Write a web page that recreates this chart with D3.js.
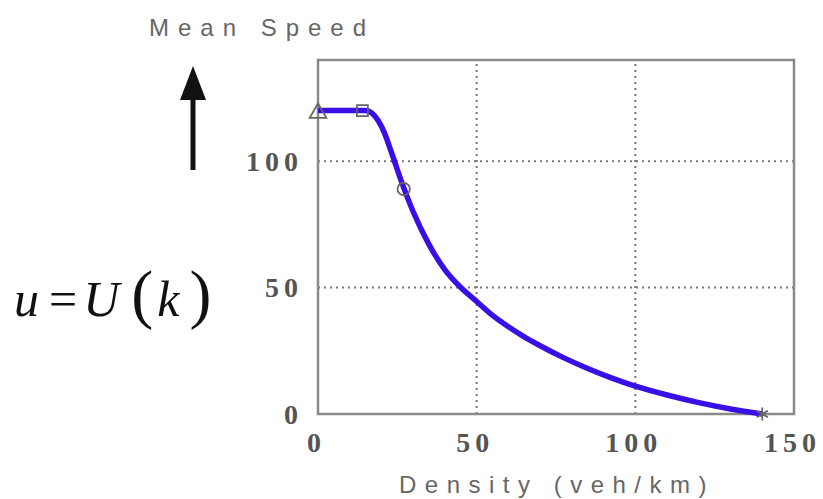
<!DOCTYPE html>
<html>
  <head>
    <script src="https://d3js.org/d3.v7.min.js" charset="utf-8"></script>
    <meta charset="UTF-8">
    <title>speed density</title>
    <style>
      body { margin: 0; background: #fff; }
    </style>
  </head>
  <body>
    <svg class="chart"></svg>
    <script type="text/javascript">

     var width = 823,
         height = 499;

     // speed-density curve
     var density = [0, 5, 10, 15, 17, 19, 21, 23, 26, 30, 35, 40, 45, 50, 55, 60, 65, 70, 77, 85, 92, 100, 110, 120, 130, 140];
     var speed   = [120, 120, 120, 120, 119, 116, 111, 104, 93, 80, 67, 57, 50, 44.5, 39, 34.5, 30.5, 27, 22.5, 18, 14.5, 11, 7.5, 4.5, 2, 0];

     var markerK = [0, 14, 27, 140];
     var markerU = [119, 120, 89, 0];
     var markerShape = ["triangle", "square", "circle", "star"];

     var xTicks = [0, 50, 100, 150];
     var yTicks = [0, 50, 100];

     var xScale = d3.scaleLinear().domain([0, 150]).range([318, 794]);
     var yScale = d3.scaleLinear().domain([0, 140]).range([414, 60]);

     var tickSpacing = 5;

     var chart = d3.select(".chart")
                   .attr("width", width)
                   .attr("height", height);

     // grid
     chart.append("g")
          .selectAll("line")
          .data([50, 100])
          .enter().append("line")
          .attr("x1", function(d) { return xScale(d); })
          .attr("x2", function(d) { return xScale(d); })
          .attr("y1", yScale(0))
          .attr("y2", yScale(140))
          .attr("stroke", "#777")
          .attr("stroke-width", 2)
          .attr("stroke-dasharray", "2,4");

     chart.append("g")
          .selectAll("line")
          .data([50, 100])
          .enter().append("line")
          .attr("y1", function(d) { return yScale(d); })
          .attr("y2", function(d) { return yScale(d); })
          .attr("x1", xScale(0))
          .attr("x2", xScale(150))
          .attr("stroke", "#777")
          .attr("stroke-width", 2)
          .attr("stroke-dasharray", "2,4");

     // frame
     chart.append("rect")
          .attr("x", xScale(0))
          .attr("y", yScale(140))
          .attr("width", xScale(150) - xScale(0))
          .attr("height", yScale(0) - yScale(140))
          .attr("fill", "none")
          .attr("stroke", "#8a8a8a")
          .attr("stroke-width", 2.5);

     // axes, tick labels only
     var xAxis = chart.append("g")
                      .attr("transform", "translate(0," + yScale(0) + ")")
                      .call(d3.axisBottom(xScale).tickValues(xTicks).tickSize(0).tickFormat(d3.format("d")));
     xAxis.select(".domain").remove();
     xAxis.selectAll("text")
          .attr("y", 38)
          .attr("dy", 0)
          .attr("dx", -2)
          .attr("font-family", "Liberation Serif, serif")
          .attr("font-weight", "bold")
          .attr("font-size", 28)
          .attr("letter-spacing", tickSpacing)
          .attr("fill", "#555");

     var yAxis = chart.append("g")
                      .attr("transform", "translate(" + xScale(0) + ",0)")
                      .call(d3.axisLeft(yScale).tickValues(yTicks).tickSize(0).tickFormat(d3.format("d")));
     yAxis.select(".domain").remove();
     yAxis.selectAll("text")
          .attr("x", -20 + tickSpacing)
          .attr("dy", "0.33em")
          .attr("font-family", "Liberation Serif, serif")
          .attr("font-weight", "bold")
          .attr("font-size", 28)
          .attr("letter-spacing", tickSpacing)
          .attr("fill", "#555");

     // curve
     var line = d3.line()
                  .x(function(d) { return xScale(d[0]); })
                  .y(function(d) { return yScale(d[1]); })
                  .curve(d3.curveMonotoneX);

     chart.append("path")
          .datum(density.map(function(k, i) { return [k, speed[i]]; }))
          .attr("d", line)
          .attr("fill", "none")
          .attr("stroke", "#3a0fe6")
          .attr("stroke-width", 5.5)
          .attr("stroke-linejoin", "round");

     // markers
     var symbols = { triangle: d3.symbolTriangle, square: d3.symbolSquare, circle: d3.symbolCircle, star: d3.symbolAsterisk };
     chart.append("g")
          .selectAll("path")
          .data(markerK.map(function(k, i) { return { k: k, u: markerU[i], s: markerShape[i] }; }))
          .enter().append("path")
          .attr("transform", function(d) { return "translate(" + xScale(d.k) + "," + yScale(d.u) + ")"; })
          .attr("d", function(d) { return d3.symbol().type(symbols[d.s]).size(120)(); })
          .attr("fill", "none")
          .attr("stroke", "#666")
          .attr("stroke-width", 1.8);

     // titles
     chart.append("text")
          .attr("x", 262)
          .attr("y", 36)
          .attr("text-anchor", "middle")
          .attr("font-family", "Liberation Sans, Arial, sans-serif")
          .attr("font-size", 24)
          .attr("letter-spacing", 9)
          .attr("fill", "#666")
          .text("Mean Speed");

     chart.append("text")
          .attr("x", 557)
          .attr("y", 493)
          .attr("text-anchor", "middle")
          .attr("font-family", "Liberation Sans, Arial, sans-serif")
          .attr("font-size", 24)
          .attr("letter-spacing", 8.5)
          .attr("fill", "#666")
          .text("Density (veh/km)");

     // arrow
     chart.append("line")
          .attr("x1", 193).attr("x2", 193)
          .attr("y1", 170).attr("y2", 96)
          .attr("stroke", "#111")
          .attr("stroke-width", 5);
     chart.append("path")
          .attr("d", "M193,66 L206,100 L180,100 Z")
          .attr("fill", "#111");

     // formula
     var formula = chart.append("text")
                        .attr("x", 14)
                        .attr("y", 316)
                        .attr("font-family", "Liberation Serif, serif")
                        .attr("font-size", 50)
                        .attr("fill", "#111");
     formula.append("tspan").attr("font-style", "italic").text("u");
     formula.append("tspan").attr("dx", 10).text("=");
     formula.append("tspan").attr("font-style", "italic").attr("dx", 6).text("U");
     formula.append("tspan").attr("dx", 12).attr("font-size", 66).text("(");
     formula.append("tspan").attr("font-style", "italic").attr("dx", 4).text("k");
     formula.append("tspan").attr("dx", 10).attr("font-size", 66).text(")");

    </script>
  </body>
</html>
